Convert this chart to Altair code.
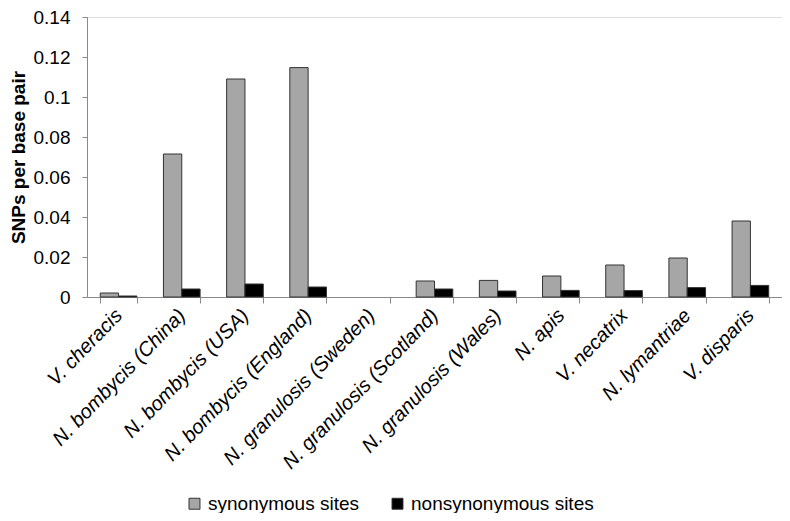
import altair as alt
import pandas as pd

species = ["V. cheracis", "N. bombycis (China)", "N. bombycis (USA)", "N. bombycis (England)",
           "N. granulosis (Sweden)", "N. granulosis (Scotland)", "N. granulosis (Wales)",
           "N. apis", "V. necatrix", "N. lymantriae", "V. disparis"]
synonymous = [0.002, 0.0715, 0.109, 0.1147, 0.0, 0.008, 0.0083, 0.0105, 0.016, 0.0195, 0.038]
nonsynonymous = [0.0005, 0.004, 0.0065, 0.005, 0.0, 0.004, 0.003, 0.0033, 0.0032, 0.0047, 0.0058]
series = ["synonymous sites", "nonsynonymous sites"]
y_ticks = [0, 0.02, 0.04, 0.06, 0.08, 0.1, 0.12, 0.14]

rows = []
for s, a, b in zip(species, synonymous, nonsynonymous):
    rows.append({"species": s, "site": series[0], "value": a})
    rows.append({"species": s, "site": series[1], "value": b})
df = pd.DataFrame(rows)

font = "Liberation Sans"

chart = alt.Chart(df).mark_bar(stroke="#333333", strokeWidth=1).encode(
    x=alt.X("species:N", sort=species, title=None,
            scale=alt.Scale(domain=species, paddingInner=0.42, paddingOuter=0.21),
            axis=alt.Axis(labelAngle=-46, labelFontStyle="italic", labelFontSize=20,
                          labelFont=font, labelColor="black", domainColor="#888888",
                          tickColor="#888888", tickBand="extent", tickSize=6,
                          labelPadding=9, labelAlign="right", labelBaseline="middle",
                          labelOverlap=False, labelLimit=0)),
    xOffset=alt.XOffset("site:N", sort=series, scale=alt.Scale(domain=series)),
    y=alt.Y("value:Q", title="SNPs per base pair",
            scale=alt.Scale(domain=[0, 0.14]),
            axis=alt.Axis(values=y_ticks,
                          labelExpr="datum.value == 0 ? '0' : format(datum.value, '.2~f')",
                          grid=False, labelFontSize=19, labelFont=font, labelColor="black",
                          titleFont=font, titleFontSize=19, titleFontWeight="bold",
                          titleColor="black", domainColor="#888888", tickColor="#888888",
                          tickSize=5, labelPadding=12, titlePadding=5)),
    color=alt.Color("site:N", sort=series,
                    scale=alt.Scale(domain=series, range=["#a6a6a6", "#000000"]),
                    legend=alt.Legend(title=None, orient="none", direction="horizontal",
                                      legendX=98, legendY=477, symbolType="square",
                                      symbolSize=120, symbolStrokeColor="#333333",
                                      symbolStrokeWidth=1, labelFontSize=19, labelFont=font,
                                      labelColor="black", columnPadding=28, labelOffset=4,
                                      labelLimit=0)),
).transform_filter(
    "datum.value > 0"
).properties(
    width=695, height=280,
    autosize=alt.AutoSizeParams(type="none"),
    padding={"left": 79, "top": 9, "right": 0, "bottom": 216},
).configure_view(stroke=None).configure(background="white")

chart.save("out.html", embed_options={"renderer": "svg", "actions": False})
